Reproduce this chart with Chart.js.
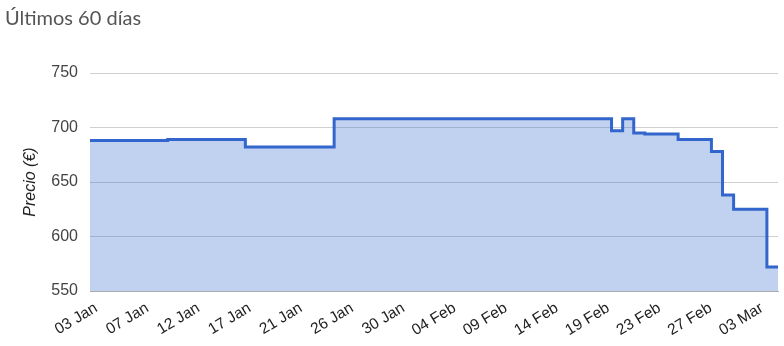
<!DOCTYPE html>
<html>
<head>
<meta charset="utf-8">
<script src="https://cdn.jsdelivr.net/npm/chart.js@4/dist/chart.umd.min.js"></script>
<style>
    html, body { margin: 0; padding: 0; background: #fff; }
    #wrap { position: relative; width: 784px; height: 346px; }
</style>
</head>
<body>
<div id="wrap"><canvas id="priceChart" width="784" height="346"></canvas></div>
<script>
// daily price from 03 Jan (day 0) onwards
const prices = [
    688, 688, 688, 688, 688, 688, 688,
    689, 689, 689, 689, 689, 689, 689,
    682, 682, 682, 682, 682, 682, 682, 682,
    708, 708, 708, 708, 708, 708, 708, 708, 708, 708, 708, 708, 708,
    708, 708, 708, 708, 708, 708, 708, 708, 708, 708, 708, 708,
    697, 708, 695, 694, 694, 694,
    689, 689, 689,
    678, 638, 625, 625, 625, 572
];

// x axis labels, spaced evenly from 03 Jan to 03 Mar
const tickLabels = ['03 Jan', '07 Jan', '12 Jan', '17 Jan', '21 Jan', '26 Jan', '30 Jan',
    '04 Feb', '09 Feb', '14 Feb', '19 Feb', '23 Feb', '27 Feb', '03 Mar'];
const tickSpan = 60;    // days between first and last label
const tickStart = 0.55; // first label sits a little after the first sample

const yTicks = [550, 600, 650, 700, 750];

const points = prices.map((p, i) => ({ x: i, y: p }));
// last price holds until the end of its day
points.push({ x: prices.length, y: prices[prices.length - 1] });

new Chart(document.getElementById('priceChart'), {
    type: 'line',
    data: {
        datasets: [{
            data: points,
            stepped: true,
            fill: 'start',
            borderColor: '#3366cc',
            backgroundColor: 'rgba(51, 102, 204, 0.3)',
            borderWidth: 3,
            pointRadius: 0
        }]
    },
    options: {
        responsive: false,
        animation: false,
        layout: { padding: { left: 5, right: 6, top: 0, bottom: 0 } },
        plugins: {
            legend: { display: false },
            tooltip: { enabled: false },
            title: {
                display: true,
                text: 'Últimos 60 días',
                align: 'start',
                color: '#555',
                font: { family: 'Lato', size: 20, weight: 'normal' },
                padding: { top: 7, bottom: 42 }
            }
        },
        scales: {
            x: {
                type: 'linear',
                min: 0,
                max: prices.length,
                afterBuildTicks: (scale) => {
                    scale.ticks = tickLabels.map((l, k) => ({ value: tickStart + k * tickSpan / (tickLabels.length - 1) }));
                },
                afterFit: (scale) => { scale.height = 55; },
                ticks: {
                    autoSkip: false,
                    minRotation: 31,
                    maxRotation: 31,
                    padding: 0,
                    color: '#222',
                    font: { family: 'Liberation Sans', size: 15.5 },
                    callback: (value, index) => tickLabels[index]
                },
                grid: { display: false },
                border: { display: true, color: '#aaa' }
            },
            y: {
                min: 550,
                max: 750,
                afterBuildTicks: (scale) => {
                    scale.ticks = yTicks.map(v => ({ value: v }));
                },
                afterFit: (scale) => { scale.width = 85; },
                ticks: {
                    padding: 12,
                    color: '#444',
                    font: { family: 'Liberation Sans', size: 16 }
                },
                grid: { color: '#d0d0d0', drawTicks: false },
                border: { display: false },
                title: {
                    display: true,
                    text: 'Precio (€)',
                    color: '#222',
                    font: { family: 'Liberation Sans', size: 16, style: 'italic' },
                    padding: { top: 16, bottom: 0 }
                }
            }
        }
    }
});
</script>
</body>
</html>
